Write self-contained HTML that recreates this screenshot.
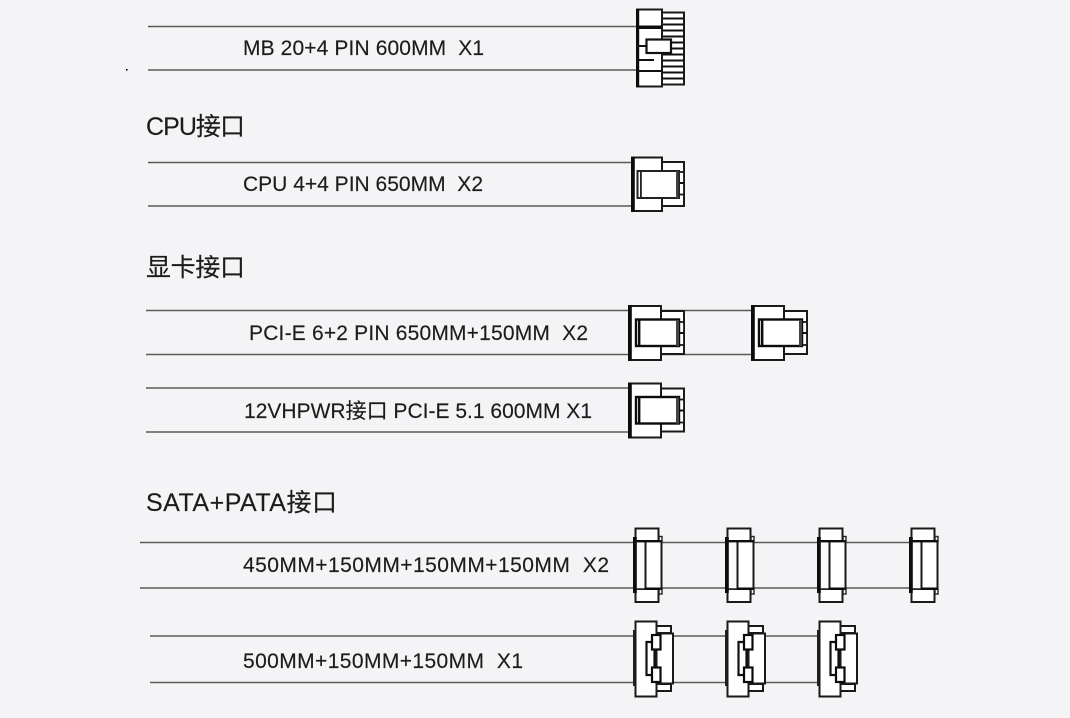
<!DOCTYPE html>
<html><head><meta charset="utf-8">
<style>
html,body{margin:0;padding:0;background:#f4f4f6;width:1070px;height:718px;overflow:hidden}
svg{display:block}
text{font-family:"Liberation Sans","Noto Sans CJK SC",sans-serif;fill:#1c1c1c;white-space:pre;stroke:#1c1c1c;stroke-width:.15}
.l{font-size:21px}.t{font-size:25px}
.w{fill:#fff;stroke:#1a1a1a;stroke-width:2}
.n{fill:none;stroke:#111;stroke-width:2.2}
.k{fill:#0c0c0c}
.ln{stroke:#5a5a5a;stroke-width:1.5;fill:none}
</style></head><body>
<svg width="1070" height="718" viewBox="0 0 1070 718" xmlns="http://www.w3.org/2000/svg">
<defs>
<g id="pci">
<rect class="w" x="661" y="311" width="23" height="43"/>
<rect class="w" x="629" y="306" width="32" height="54"/>
<rect class="k" x="628" y="305" width="3.800" height="55.500"/>
<rect x="679" y="322" width="5" height="23" fill="#fff" stroke="#1a1a1a" stroke-width="1.800"/>
<line x1="679" y1="333" x2="684" y2="333" stroke="#111" stroke-width="2"/>
<rect x="636" y="319.500" width="43" height="26.500" fill="#fff" stroke="#0c0c0c" stroke-width="2.400"/>
<rect class="k" x="638" y="319" width="2.400" height="27"/>
<rect x="676" y="320" width="3" height="26" fill="#444"/>
</g>
<g id="sata">
<rect class="w" x="635.500" y="528.500" width="23" height="13"/>
<rect class="w" x="635.500" y="589" width="23" height="13"/>
<rect x="635" y="541" width="26" height="48" fill="#fafafa" stroke="#222" stroke-width="1.500"/>
<rect x="659" y="536.500" width="3" height="5" fill="#fff" stroke="#222" stroke-width="1.400"/>
<rect x="659" y="589" width="3" height="5" fill="#fff" stroke="#222" stroke-width="1.400"/>
<rect x="645.500" y="541" width="16" height="48" fill="#fff" stroke="#1a1a1a" stroke-width="2"/>
<rect class="k" x="633" y="537" width="3.800" height="56"/>
<rect class="k" x="635" y="540" width="26" height="2.400"/>
<rect class="k" x="645" y="587.500" width="16" height="2.400"/>
</g>
<g id="pata">
<rect class="w" x="656" y="626" width="15" height="7"/>
<rect class="w" x="656" y="684" width="15" height="7"/>
<rect class="w" x="656" y="633.500" width="17" height="50"/>
<rect x="633" y="630" width="3" height="56" fill="#222"/>
<rect class="w" x="635.500" y="621.500" width="21" height="75"/>
<path class="n" d="M651 642H646.500V675H651"/>
<line x1="654.500" y1="649" x2="654.500" y2="668" stroke="#111" stroke-width="2.200"/>
<rect x="652" y="635" width="8.500" height="14.500" fill="#fff" stroke="#0c0c0c" stroke-width="2.200"/>
<rect x="652" y="667.500" width="8.500" height="14.500" fill="#fff" stroke="#0c0c0c" stroke-width="2.200"/>
</g>
</defs>
<rect width="1070" height="718" fill="#f4f4f6"/>
<rect x="126" y="69" width="1.600" height="1.600" fill="#111"/>

<!-- cables -->
<path class="ln" d="M148 26.500H636M148 70H636"/>
<path class="ln" d="M148 162.500H631M148 206H631"/>
<path class="ln" d="M146 310.500H751M146 354.500H751"/>
<path class="ln" d="M146 388H628M146 432H628"/>
<path class="ln" d="M140 542.500H911M140 588H911"/>
<path class="ln" d="M150 636H817M150 682.500H817"/>

<!-- labels -->
<text class="l" x="243" y="55" textLength="241" lengthAdjust="spacing">MB 20+4 PIN 600MM  X1</text>
<text class="t" x="146" y="135" textLength="99" lengthAdjust="spacing">CPU接口</text>
<text class="l" x="243" y="191" textLength="240" lengthAdjust="spacing">CPU 4+4 PIN 650MM  X2</text>
<text class="t" x="146" y="276" textLength="99" lengthAdjust="spacing">显卡接口</text>
<text class="l" x="249" y="340" textLength="339" lengthAdjust="spacing">PCI-E 6+2 PIN 650MM+150MM  X2</text>
<text class="l" x="244" y="418" textLength="348" lengthAdjust="spacing">12VHPWR接口 PCI-E 5.1 600MM X1</text>
<text class="t" x="146" y="511" textLength="191" lengthAdjust="spacing">SATA+PATA接口</text>
<text class="l" x="243" y="572" textLength="366" lengthAdjust="spacing">450MM+150MM+150MM+150MM  X2</text>
<text class="l" x="243" y="668" textLength="280" lengthAdjust="spacing">500MM+150MM+150MM  X1</text>

<!-- MB connector -->
<g>
<rect class="w" x="662" y="12.500" width="22" height="72"/>
<path stroke="#111" stroke-width="2" fill="none" d="M662 18.500H684M662 24.500H684M662 30.500H684M662 36.500H684M662 42.500H684M662 48.500H684M662 54.500H684M662 60.500H684M662 66.500H684M662 72.500H684M662 78.500H684"/>
<rect class="w" x="637" y="9.500" width="25" height="77"/>
<rect class="k" x="636" y="9" width="3.200" height="78"/>
<rect class="k" x="637" y="25.500" width="25" height="3.500"/>
<path stroke="#111" stroke-width="2" fill="none" d="M637 71H662M637 60H654M637 46H646"/>
<rect x="646.500" y="39.500" width="24.500" height="13.500" fill="#fff" stroke="#111" stroke-width="2.200"/>
</g>

<!-- CPU connector -->
<g>
<rect class="w" x="662" y="162" width="22" height="44"/>
<rect class="w" x="632" y="157.500" width="30" height="53.500"/>
<rect class="k" x="631" y="157" width="3.800" height="54.500"/>
<rect x="679" y="172" width="5" height="22.500" fill="#fff" stroke="#1a1a1a" stroke-width="1.800"/>
<line x1="679" y1="183" x2="684" y2="183" stroke="#111" stroke-width="2"/>
<rect x="637.500" y="171" width="41.500" height="27" fill="#fff" stroke="#222" stroke-width="2"/>
<rect x="640" y="171" width="1.800" height="27" fill="#222"/>
<rect x="676" y="171" width="2.400" height="27" fill="#444"/>
</g>

<!-- PCI -->
<use href="#pci"/>
<use href="#pci" x="123"/>
<use href="#pci" y="77.500"/>

<!-- SATA -->
<use href="#sata"/>
<use href="#sata" x="92"/>
<use href="#sata" x="184"/>
<use href="#sata" x="276"/>

<!-- PATA -->
<use href="#pata"/>
<use href="#pata" x="92"/>
<use href="#pata" x="184"/>
</svg>
</body></html>
